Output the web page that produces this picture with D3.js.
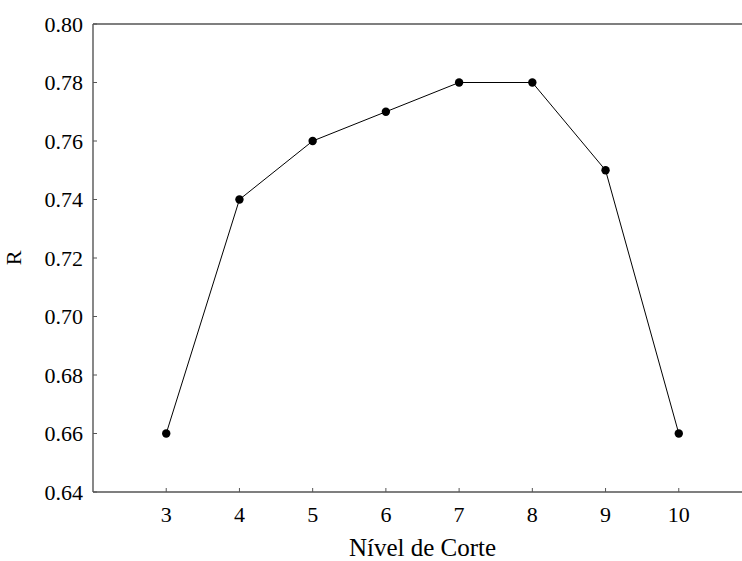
<!DOCTYPE html>
<html>
<head>
<meta charset="utf-8">
<script src="https://cdn.jsdelivr.net/npm/d3@7"></script>
<style>
  body { margin: 0; background: #fff; }
  svg text { font-family: "Liberation Serif", "Times New Roman", serif; fill: #000; }
</style>
</head>
<body>
<div id="chart"></div>
<script>
const levels = [3, 4, 5, 6, 7, 8, 9, 10];
const rValues = [0.66, 0.74, 0.76, 0.77, 0.78, 0.78, 0.75, 0.66];
const yTicks = [0.64, 0.66, 0.68, 0.70, 0.72, 0.74, 0.76, 0.78, 0.80];

const W = 742, H = 561;
const margin = { top: 24, right: -10, bottom: 69, left: 93 };
const width = W - margin.left - margin.right;
const height = H - margin.top - margin.bottom;

const svg = d3.select("#chart").append("svg")
    .attr("width", W)
    .attr("height", H);

const g = svg.append("g")
    .attr("transform", `translate(${margin.left},${margin.top})`);

const x = d3.scaleLinear().domain([2, 11]).range([0, width]);
const y = d3.scaleLinear().domain([0.64, 0.80]).range([height, 0]);

const axisColor = "#555";

// frame lines (left, bottom, top) - right side runs off the picture
g.append("line").attr("x1", 0).attr("x2", 0).attr("y1", 0).attr("y2", height)
    .attr("stroke", axisColor).attr("stroke-width", 1.4);
g.append("line").attr("x1", 0).attr("x2", width).attr("y1", height).attr("y2", height)
    .attr("stroke", axisColor).attr("stroke-width", 1.4);
g.append("line").attr("x1", 0).attr("x2", width).attr("y1", 0).attr("y2", 0)
    .attr("stroke", axisColor).attr("stroke-width", 1.4);

// y ticks (inward)
g.selectAll(".ytick").data(yTicks).enter().append("line")
    .attr("x1", 0).attr("x2", 4)
    .attr("y1", d => y(d)).attr("y2", d => y(d))
    .attr("stroke", axisColor).attr("stroke-width", 1);
g.selectAll(".ylab").data(yTicks).enter().append("text")
    .attr("x", -10)
    .attr("y", d => y(d))
    .attr("dy", "0.35em")
    .attr("text-anchor", "end")
    .style("font-size", "22px")
    .text(d => d3.format(".2f")(d));

// x ticks (inward)
g.selectAll(".xtick").data(levels).enter().append("line")
    .attr("x1", d => x(d)).attr("x2", d => x(d))
    .attr("y1", height).attr("y2", height - 4)
    .attr("stroke", axisColor).attr("stroke-width", 1);
g.selectAll(".xlab").data(levels).enter().append("text")
    .attr("x", d => x(d))
    .attr("y", height + 30)
    .attr("text-anchor", "middle")
    .style("font-size", "22px")
    .text(d => d);

// line + markers
const pts = levels.map((d, i) => [d, rValues[i]]);
g.append("path")
    .datum(pts)
    .attr("fill", "none")
    .attr("stroke", "#000")
    .attr("stroke-width", 1)
    .attr("d", d3.line().x(d => x(d[0])).y(d => y(d[1])));

g.selectAll(".pt").data(pts).enter().append("circle")
    .attr("cx", d => x(d[0]))
    .attr("cy", d => y(d[1]))
    .attr("r", 4.2)
    .attr("fill", "#000");

// axis titles
svg.append("text")
    .attr("x", margin.left + width / 2)
    .attr("y", 556)
    .attr("text-anchor", "middle")
    .style("font-size", "25px")
    .text("Nível de Corte");

svg.append("text")
    .attr("transform", `translate(21,${margin.top + height / 2}) rotate(-90)`)
    .attr("text-anchor", "middle")
    .style("font-size", "22px")
    .text("R");
</script>
</body>
</html>
